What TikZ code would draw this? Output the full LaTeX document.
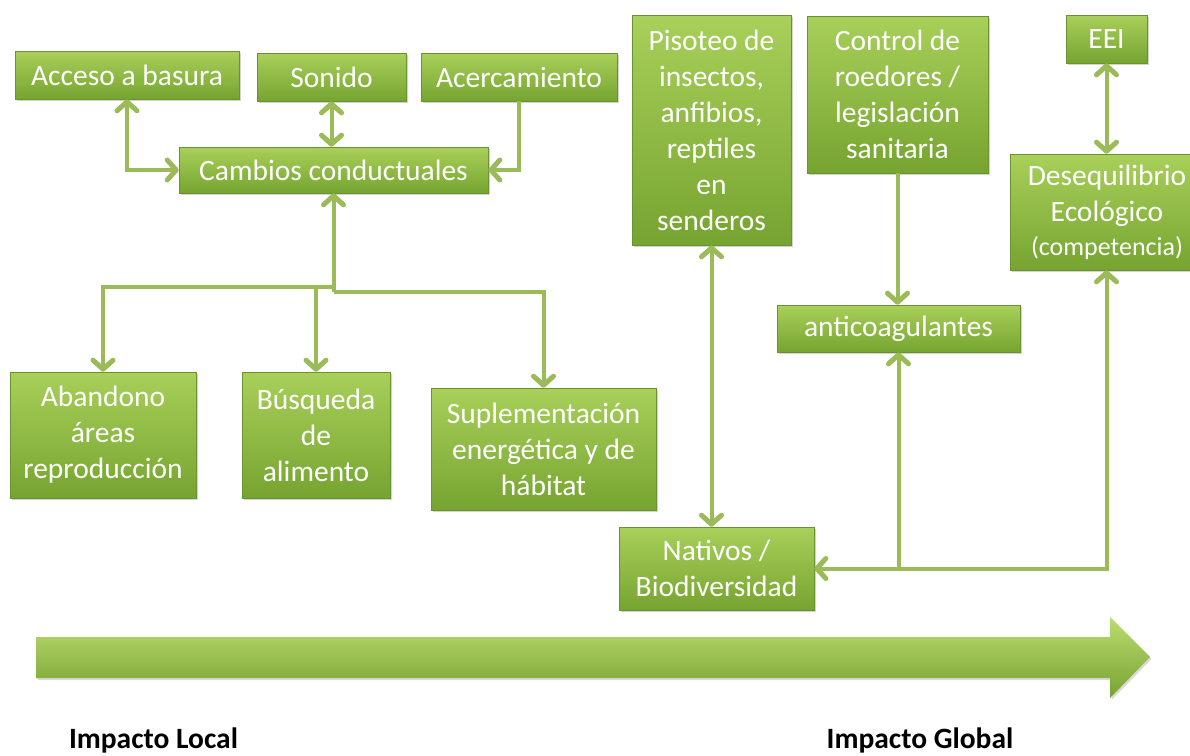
\documentclass[tikz,border=0pt]{standalone}
\usepackage{fontspec}
\setmainfont{Carlito}
\usetikzlibrary{arrows.meta}
\usetikzlibrary{shadows}

\definecolor{boxtop}{HTML}{A8D05A}
\definecolor{boxbot}{HTML}{76A430}
\definecolor{boxedge}{HTML}{6A9330}
\definecolor{linkgreen}{HTML}{9BBB59}
\definecolor{barlight}{HTML}{BCDD70}
\definecolor{barmid}{HTML}{9CCB46}
\definecolor{bardark}{HTML}{76A231}

\begin{document}
\begin{tikzpicture}[x=1pt,y=-1pt,
  impact/.style={rectangle,draw=boxedge,line width=0.6pt,top color=boxtop,bottom color=boxbot,
    text=white,align=center,inner sep=0pt,font=\fontsize{29.5}{36}\selectfont,
    drop shadow={shadow xshift=1.5pt,shadow yshift=-1.5pt,opacity=0.35}},
  link/.style={draw=linkgreen,line width=4pt,>={Straight Barb[length=9pt,width=20pt,line width=5pt,round]}}]

  \useasboundingbox (0,0) rectangle (1190,755);

  \node [impact,minimum width=224pt,minimum height=48pt] (acceso) at (127,75) {Acceso a basura};
  \node [impact,minimum width=149pt,minimum height=48pt] (sonido) at (331.5,77) {Sonido};
  \node [impact,minimum width=196pt,minimum height=48pt] (acerca) at (519,77) {Acercamiento};
  \node [impact,minimum width=309pt,minimum height=46pt] (cambios) at (333.5,170) {Cambios conductuales};

  \node [impact,minimum width=186pt,minimum height=126pt] (abandono) at (103,435) {Abandono\\áreas\\reproducción};
  \node [impact,minimum width=148pt,minimum height=126pt] (busqueda) at (316,435) {Búsqueda\\de\\alimento};
  \node [impact,minimum width=225pt,minimum height=122pt] (suplem) at (543.5,449) {Suplementación\\energética y de\\hábitat};

  \node [impact,minimum width=159pt,minimum height=230pt] (pisoteo) at (711.5,130) {Pisoteo de\\insectos,\\anfibios,\\reptiles\\en\\senderos};
  \node [impact,minimum width=181pt,minimum height=157pt] (control) at (897.5,94.5) {Control de\\roedores /\\legislación\\sanitaria};
  \node [impact,minimum width=81pt,minimum height=48pt] (EEI) at (1106.5,39) {EEI};
  \node [impact,minimum width=194pt,minimum height=116pt] (deseq) at (1107,212) {Desequilibrio\\Ecológico\\[-2pt]{\fontsize{26}{31}\selectfont(competencia)}};
  \node [impact,minimum width=243pt,minimum height=47pt] (anticoag) at (898.5,328.5) {anticoagulantes};
  \node [impact,minimum width=195pt,minimum height=83pt] (nativos) at (716.5,568.5) {Nativos /\\Biodiversidad};

  \coordinate (fork_l) at (333.5,287);
  \coordinate (fork_r) at (333.5,292);

  \path [link,<->] (acceso.south) |- (cambios.west);
  \path [link,<->] (sonido.south) -- (sonido.south |- cambios.north);
  \path [link,->] (acerca.south) |- (cambios.east);

  \path [link,->] (fork_r) -- (cambios.south);
  \path [link,->] (fork_l) -| (abandono.north);
  \path [link,->] (fork_l -| busqueda.north) -- (busqueda.north);
  \path [link,->] (fork_r) -| (suplem.north);

  \path [link,<->] (pisoteo.south) -- (pisoteo.south |- nativos.north);
  \path [link,->] (control.south) -- (control.south |- anticoag.north);
  \path [link,<->] (EEI.south) -- (EEI.south |- deseq.north);
  \path [link,<->] (nativos.east) -| (EEI.south |- deseq.south);
  \path [link,->] (nativos.east -| anticoag.south) -- (anticoag.south);

  \shade [top color=barlight,middle color=barmid,bottom color=bardark,drop shadow={shadow xshift=1.5pt,shadow yshift=-2pt,opacity=0.3}]
    (36,637) -- (1110,637) -- (1110,617) -- (1150,657) -- (1110,698) -- (1110,678) -- (36,678) -- cycle;

  \node [font=\bfseries\fontsize{29.5}{36}\selectfont] (local) at (153.5,740) {Impacto Local};
  \node [font=\bfseries\fontsize{29.5}{36}\selectfont] (global) at (920,740) {Impacto Global};

\end{tikzpicture}
\end{document}
